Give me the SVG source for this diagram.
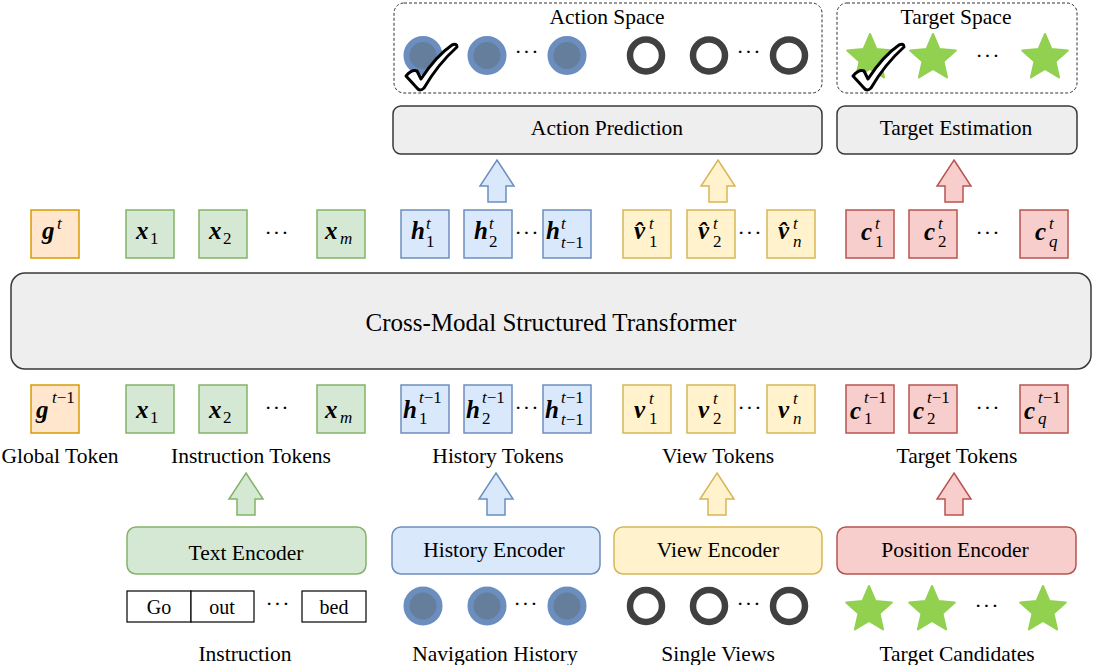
<svg xmlns="http://www.w3.org/2000/svg" xmlns:xlink="http://www.w3.org/1999/xlink" width="1094" height="665" viewBox="0 0 1094 665">
<style>
.lbl{font-family:"Liberation Serif",serif;font-size:21.5px;fill:#000;text-anchor:middle}
.big{font-family:"Liberation Serif",serif;font-size:25px;fill:#000;text-anchor:middle}
.wd{font-family:"Liberation Serif",serif;font-size:20px;fill:#000;text-anchor:middle}
.m{font-family:"Liberation Serif",serif;font-weight:bold;font-style:italic;font-size:25px;fill:#000}
.s{font-family:"Liberation Serif",serif;font-style:italic;font-size:17px;fill:#000}
.n{font-family:"Liberation Serif",serif;font-style:normal;font-size:17px;fill:#000}
.dots{font-family:"Liberation Serif",serif;font-size:22px;fill:#000;text-anchor:middle;letter-spacing:1px}
.gray{fill:#eeeeee;stroke:#36393d;stroke-width:1.5}
.dash{fill:none;stroke:#333;stroke-width:1;stroke-dasharray:3 2}
.grn{fill:#d5e8d4;stroke:#82b366;stroke-width:1.5}
.blu{fill:#dae8fc;stroke:#6c8ebf;stroke-width:1.5}
.yel{fill:#fff2cc;stroke:#d6b656;stroke-width:1.5}
.red{fill:#f8cecc;stroke:#b85450;stroke-width:1.5}
.org{fill:#ffe6cc;stroke:#d79b00;stroke-width:1.5}
.hist{fill:#647e9c;stroke:#6c8ebf;stroke-width:6}
.ring{fill:#fff;stroke:#404040;stroke-width:6.5}
.star{fill:#92d050;stroke:#92d050;stroke-width:2;stroke-linejoin:round}
.chk{fill:#fff;stroke:#000;stroke-width:3;stroke-linejoin:round}
.wbox{fill:#fff;stroke:#000;stroke-width:1.2}
</style>
<defs>
<polygon id="starShape" class="star" points="0,-24 6.47,-8.9 22.83,-7.42 10.46,3.4 14.11,19.42 0,11 -14.11,19.42 -10.46,3.4 -22.83,-7.42 -6.47,-8.9"/>
<path id="check" class="chk" d="M0,33 Q6,26 11,28 L15,36 Q30,13 46,2 Q51,0 51,4 Q32,21 18,45 Q14,49 11,45 Z"/>
</defs>

<g id="action-space">
<rect class="dash" x="394" y="3" width="428" height="90" rx="10"/>
<text class="lbl" x="607" y="24">Action Space</text>
<circle class="hist" cx="423" cy="55.5" r="16.5"/>
<circle class="hist" cx="487" cy="55.5" r="16.5"/>
<text class="dots" x="527" y="59">···</text>
<circle class="hist" cx="567" cy="55.5" r="16.5"/>
<circle class="ring" cx="646" cy="55.5" r="16"/>
<circle class="ring" cx="709" cy="55.5" r="16"/>
<text class="dots" x="749" y="59">···</text>
<circle class="ring" cx="789" cy="55.5" r="16"/>
<use xlink:href="#check" href="#check" transform="translate(406,43)"/>
</g>

<g id="target-space">
<rect class="dash" x="837" y="3" width="240" height="90" rx="10"/>
<text class="lbl" x="956" y="24">Target Space</text>
<use xlink:href="#starShape" href="#starShape" transform="translate(870,58)"/>
<use xlink:href="#starShape" href="#starShape" transform="translate(933,58)"/>
<text class="dots" x="988" y="63">···</text>
<use xlink:href="#starShape" href="#starShape" transform="translate(1045,58)"/>
<use xlink:href="#check" href="#check" transform="translate(853,43)"/>
</g>

<g id="action-prediction">
<rect class="gray" x="393" y="106" width="429" height="48" rx="8"/>
<text class="lbl" x="607" y="135">Action Prediction</text>
</g>
<g id="target-estimation">
<rect class="gray" x="837" y="106" width="240" height="48" rx="8"/>
<text class="lbl" x="956" y="135">Target Estimation</text>
</g>

<g id="transformer">
<rect class="gray" x="11" y="273" width="1080" height="96" rx="14"/>
<text class="big" x="551" y="331">Cross-Modal Structured Transformer</text>
</g>

<g id="output-tokens">
<rect class="org" x="31" y="210" width="48" height="48"/>
<text class="m" x="42" y="239">g</text><text class="s" x="57" y="229">t</text>
<rect class="grn" x="126" y="210" width="48" height="48"/>
<text class="m" x="136" y="239">x</text><text class="n" x="150" y="244">1</text>
<rect class="grn" x="199" y="210" width="48" height="48"/>
<text class="m" x="209" y="239">x</text><text class="n" x="223" y="244">2</text>
<text class="dots" x="277" y="240">···</text>
<rect class="grn" x="317" y="210" width="48" height="48"/>
<text class="m" x="325" y="239">x</text><text class="s" x="340" y="244">m</text>

<rect class="blu" x="401" y="210" width="48" height="48"/>
<text class="m" x="411" y="239">h</text><text class="s" x="426" y="229">t</text><text class="n" x="426" y="247">1</text>
<rect class="blu" x="464" y="210" width="48" height="48"/>
<text class="m" x="474" y="239">h</text><text class="s" x="489" y="229">t</text><text class="n" x="489" y="247">2</text>
<text class="dots" x="527" y="240">···</text>
<rect class="blu" x="543" y="210" width="48" height="48"/>
<text class="m" x="546" y="239">h</text><text class="s" x="561" y="229">t</text><text class="s" x="561" y="248">t<tspan class="n">−1</tspan></text>

<rect class="yel" x="623" y="210" width="48" height="48"/>
<text class="m" x="634" y="239">v&#x302;</text><text class="s" x="649" y="229">t</text><text class="n" x="649" y="247">1</text>
<rect class="yel" x="687" y="210" width="48" height="48"/>
<text class="m" x="698" y="239">v&#x302;</text><text class="s" x="713" y="229">t</text><text class="n" x="713" y="247">2</text>
<text class="dots" x="750" y="240">···</text>
<rect class="yel" x="767" y="210" width="48" height="48"/>
<text class="m" x="778" y="239">v&#x302;</text><text class="s" x="793" y="229">t</text><text class="s" x="793" y="247">n</text>

<rect class="red" x="846" y="210" width="48" height="48"/>
<text class="m" x="861" y="240">c</text><text class="s" x="875" y="229">t</text><text class="n" x="875" y="247">1</text>
<rect class="red" x="909" y="210" width="48" height="48"/>
<text class="m" x="924" y="240">c</text><text class="s" x="938" y="229">t</text><text class="n" x="938" y="247">2</text>
<text class="dots" x="988" y="240">···</text>
<rect class="red" x="1020" y="210" width="48" height="48"/>
<text class="m" x="1035" y="240">c</text><text class="s" x="1049" y="229">t</text><text class="s" x="1049" y="247">q</text>
</g>

<g id="input-tokens">
<rect class="org" x="31" y="385" width="48" height="48"/>
<text class="m" x="36" y="418">g</text><text class="s" x="52" y="403">t<tspan class="n">−1</tspan></text>
<rect class="grn" x="126" y="385" width="48" height="48"/>
<text class="m" x="136" y="418">x</text><text class="n" x="150" y="423">1</text>
<rect class="grn" x="199" y="385" width="48" height="48"/>
<text class="m" x="209" y="418">x</text><text class="n" x="223" y="423">2</text>
<text class="dots" x="277" y="415">···</text>
<rect class="grn" x="317" y="385" width="48" height="48"/>
<text class="m" x="325" y="418">x</text><text class="s" x="340" y="423">m</text>

<rect class="blu" x="401" y="385" width="48" height="48"/>
<text class="m" x="403" y="418">h</text><text class="s" x="419" y="403">t<tspan class="n">−1</tspan></text><text class="n" x="419" y="424">1</text>
<rect class="blu" x="464" y="385" width="48" height="48"/>
<text class="m" x="466" y="418">h</text><text class="s" x="482" y="403">t<tspan class="n">−1</tspan></text><text class="n" x="482" y="424">2</text>
<text class="dots" x="527" y="415">···</text>
<rect class="blu" x="543" y="385" width="48" height="48"/>
<text class="m" x="545" y="418">h</text><text class="s" x="561" y="403">t<tspan class="n">−1</tspan></text><text class="s" x="561" y="425">t<tspan class="n">−1</tspan></text>

<rect class="yel" x="623" y="385" width="48" height="48"/>
<text class="m" x="634" y="418">v</text><text class="s" x="649" y="404">t</text><text class="n" x="649" y="424">1</text>
<rect class="yel" x="687" y="385" width="48" height="48"/>
<text class="m" x="698" y="418">v</text><text class="s" x="713" y="404">t</text><text class="n" x="713" y="424">2</text>
<text class="dots" x="750" y="415">···</text>
<rect class="yel" x="767" y="385" width="48" height="48"/>
<text class="m" x="778" y="418">v</text><text class="s" x="793" y="404">t</text><text class="s" x="793" y="424">n</text>

<rect class="red" x="846" y="385" width="48" height="48"/>
<text class="m" x="850" y="419">c</text><text class="s" x="864" y="403">t<tspan class="n">−1</tspan></text><text class="n" x="864" y="424">1</text>
<rect class="red" x="909" y="385" width="48" height="48"/>
<text class="m" x="913" y="419">c</text><text class="s" x="927" y="403">t<tspan class="n">−1</tspan></text><text class="n" x="927" y="424">2</text>
<text class="dots" x="988" y="415">···</text>
<rect class="red" x="1020" y="385" width="48" height="48"/>
<text class="m" x="1024" y="419">c</text><text class="s" x="1038" y="403">t<tspan class="n">−1</tspan></text><text class="s" x="1038" y="424">q</text>
</g>

<g id="token-labels">
<text class="lbl" x="60" y="463">Global Token</text>
<text class="lbl" x="251" y="463">Instruction Tokens</text>
<text class="lbl" x="498" y="463">History Tokens</text>
<text class="lbl" x="718" y="463">View Tokens</text>
<text class="lbl" x="957" y="463">Target Tokens</text>
</g>

<g id="text-encoder">
<rect class="grn" x="127" y="527" width="239" height="47" rx="9"/>
<text class="lbl" x="246" y="560">Text Encoder</text>
</g>
<g id="history-encoder">
<rect class="blu" x="392" y="527" width="208" height="47" rx="9"/>
<text class="lbl" x="494" y="557">History Encoder</text>
</g>
<g id="view-encoder">
<rect class="yel" x="614" y="527" width="208" height="47" rx="9"/>
<text class="lbl" x="718" y="557">View Encoder</text>
</g>
<g id="position-encoder">
<rect class="red" x="837" y="527" width="239" height="47" rx="9"/>
<text class="lbl" x="955" y="557">Position Encoder</text>
</g>

<g id="instruction">
<rect class="wbox" x="127" y="591" width="64" height="31"/>
<rect class="wbox" x="191" y="591" width="63" height="31"/>
<rect class="wbox" x="302" y="591" width="64" height="31"/>
<text class="wd" x="159" y="614">Go</text>
<text class="wd" x="222" y="614">out</text>
<text class="dots" x="278" y="611">···</text>
<text class="wd" x="334" y="614">bed</text>
<text class="lbl" x="245" y="661">Instruction</text>
</g>
<g id="navigation-history">
<circle class="hist" cx="423" cy="606" r="16.5"/>
<circle class="hist" cx="487" cy="606" r="16.5"/>
<text class="dots" x="526" y="611">···</text>
<circle class="hist" cx="567" cy="606" r="16.5"/>
<text class="lbl" x="495" y="661">Navigation History</text>
</g>
<g id="single-views">
<circle class="ring" cx="646" cy="606" r="16"/>
<circle class="ring" cx="709" cy="606" r="16"/>
<text class="dots" x="749" y="611">···</text>
<circle class="ring" cx="789" cy="606" r="16"/>
<text class="lbl" x="718" y="661">Single Views</text>
</g>
<g id="target-candidates">
<use xlink:href="#starShape" href="#starShape" transform="translate(869,610)"/>
<use xlink:href="#starShape" href="#starShape" transform="translate(932,610)"/>
<text class="dots" x="987" y="613">···</text>
<use xlink:href="#starShape" href="#starShape" transform="translate(1043,610)"/>
<text class="lbl" x="957" y="661">Target Candidates</text>
</g>

<g id="connectors">
<polygon class="blu" points="497,160 514,186 506,186 506,202 488,202 488,186 480,186"/>
<polygon class="yel" points="718,160 735,186 727,186 727,202 709,202 709,186 701,186"/>
<polygon class="red" points="954,160 971,186 963,186 963,202 945,202 945,186 937,186"/>
<polygon class="grn" points="246,473 263,499 255,499 255,515 237,515 237,499 229,499"/>
<polygon class="blu" points="496,473 513,499 505,499 505,515 487,515 487,499 479,499"/>
<polygon class="yel" points="717,473 734,499 726,499 726,515 708,515 708,499 700,499"/>
<polygon class="red" points="954,473 971,499 963,499 963,515 945,515 945,499 937,499"/>
</g>
</svg>
